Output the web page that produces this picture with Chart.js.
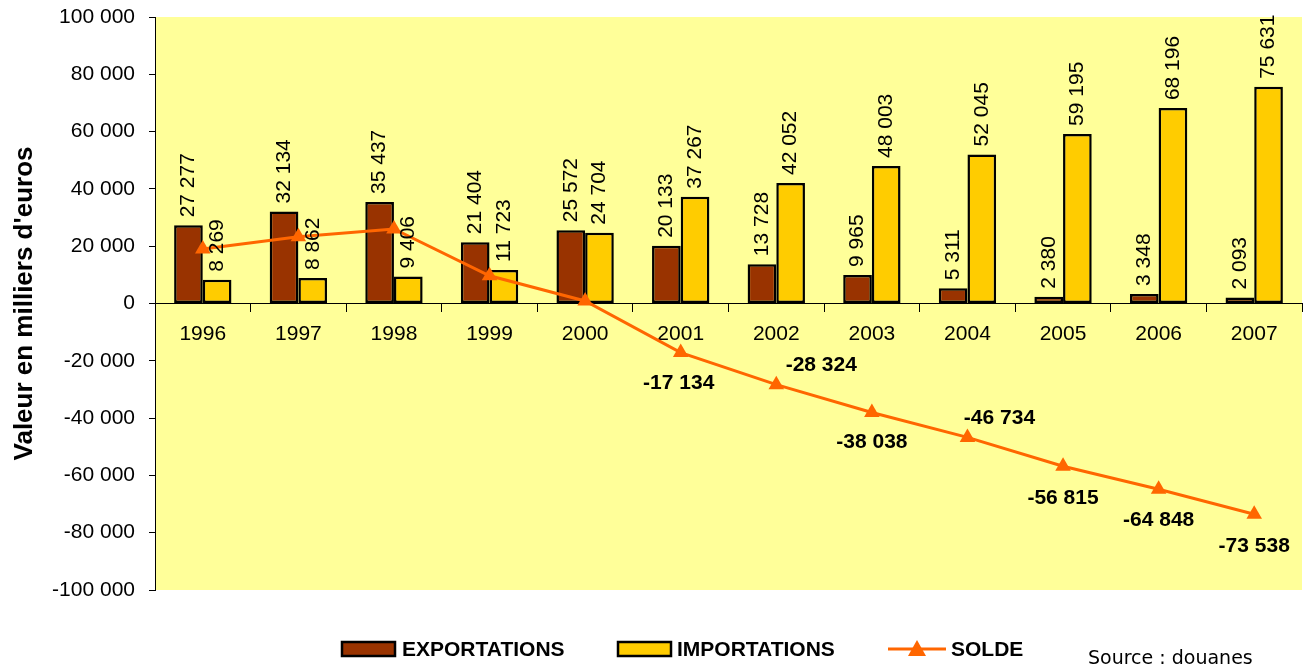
<!DOCTYPE html>
<html>
<head>
<meta charset="utf-8">
<script src="https://cdn.jsdelivr.net/npm/chart.js@4.4.1/dist/chart.umd.min.js"></script>
<style>
  html, body { margin: 0; padding: 0; background: #fff; }
  #wrap { position: relative; width: 1311px; height: 667px; }
</style>
</head>
<body>
<div id="wrap"><canvas id="c" width="1311" height="667"></canvas></div>
<script>
const years = ['1996', '1997', '1998', '1999', '2000', '2001', '2002', '2003', '2004', '2005', '2006', '2007'];
const exportations = [27277, 32134, 35437, 21404, 25572, 20133, 13728, 9965, 5311, 2380, 3348, 2093];
const importations = [8269, 8862, 9406, 11723, 24704, 37267, 42052, 48003, 52045, 59195, 68196, 75631];
const solde = [19008, 23272, 26031, 9681, 868, -17134, -28324, -38038, -46734, -56815, -64848, -73538];

// décalage des étiquettes du solde (seules les valeurs négatives sont affichées)
const soldeLabelOffsets = [null, null, null, null, null,
    [-2, 31], [45, -19], [0, 30], [32, -19], [0, 32], [0, 31], [0, 32]];

const FONT = 'Arial, "Liberation Sans", sans-serif';

function fmt(v) {
    const s = String(Math.abs(v)).replace(/\B(?=(\d{3})+(?!\d))/g, ' ');
    return (v < 0 ? '-' : '') + s;
}

// fond jaune de la zone de tracé
const plotBackground = {
    id: 'plotBackground',
    beforeDraw(chart) {
        const { ctx, chartArea: a } = chart;
        ctx.save();
        ctx.fillStyle = '#FFFF99';
        ctx.fillRect(a.left, a.top, a.right - a.left, a.bottom - a.top);
        ctx.restore();
    }
};

// étiquettes de valeurs
const valueLabels = {
    id: 'valueLabels',
    afterDatasetsDraw(chart) {
        const ctx = chart.ctx;
        ctx.save();
        ctx.fillStyle = '#000';
        [0, 1].forEach(di => {
            const meta = chart.getDatasetMeta(di);
            const data = chart.data.datasets[di].data;
            meta.data.forEach((bar, i) => {
                ctx.save();
                ctx.translate(bar.x, bar.y - 8);
                ctx.rotate(-Math.PI / 2);
                ctx.font = '21px ' + FONT;
                ctx.textAlign = 'left';
                ctx.textBaseline = 'middle';
                ctx.fillText(fmt(data[i]), 0, 0);
                ctx.restore();
            });
        });
        const lm = chart.getDatasetMeta(2);
        ctx.font = 'bold 21px ' + FONT;
        ctx.textAlign = 'center';
        ctx.textBaseline = 'middle';
        lm.data.forEach((pt, i) => {
            const off = soldeLabelOffsets[i];
            if (!off) return;
            ctx.fillText(fmt(solde[i]), pt.x + off[0], pt.y + off[1]);
        });
        ctx.restore();
    }
};

// légende dessinée à la main + source
const customLegend = {
    id: 'customLegend',
    afterDraw(chart) {
        const ctx = chart.ctx;
        ctx.save();
        ctx.lineWidth = 2.5;
        ctx.strokeStyle = '#000';
        ctx.fillStyle = '#993300';
        ctx.fillRect(342, 642, 53, 14);
        ctx.strokeRect(342, 642, 53, 14);
        ctx.fillStyle = '#FFCC00';
        ctx.fillRect(618, 642, 53, 14);
        ctx.strokeRect(618, 642, 53, 14);
        ctx.strokeStyle = '#FF6600';
        ctx.lineWidth = 3;
        ctx.beginPath();
        ctx.moveTo(888, 649);
        ctx.lineTo(946, 649);
        ctx.stroke();
        ctx.fillStyle = '#FF6600';
        ctx.beginPath();
        ctx.moveTo(917, 640);
        ctx.lineTo(926, 656);
        ctx.lineTo(908, 656);
        ctx.closePath();
        ctx.fill();
        ctx.fillStyle = '#000';
        ctx.font = 'bold 21px ' + FONT;
        ctx.textBaseline = 'middle';
        ctx.textAlign = 'left';
        ctx.fillText('EXPORTATIONS', 402, 650);
        ctx.fillText('IMPORTATIONS', 677, 650);
        ctx.fillText('SOLDE', 951, 650);
        ctx.font = '19px "DejaVu Sans", Verdana, sans-serif';
        ctx.textBaseline = 'alphabetic';
        ctx.fillText('Source : douanes', 1088, 664);
        ctx.restore();
    }
};

new Chart(document.getElementById('c'), {
    data: {
        labels: years,
        datasets: [
            {
                type: 'bar',
                label: 'EXPORTATIONS',
                data: exportations,
                backgroundColor: '#993300',
                borderColor: '#000',
                borderWidth: 2.5,
                borderSkipped: false,
                categoryPercentage: 0.6,
                barPercentage: 1.0,
                order: 1
            },
            {
                type: 'bar',
                label: 'IMPORTATIONS',
                data: importations,
                backgroundColor: '#FFCC00',
                borderColor: '#000',
                borderWidth: 2.5,
                borderSkipped: false,
                categoryPercentage: 0.6,
                barPercentage: 1.0,
                order: 1
            },
            {
                type: 'line',
                label: 'SOLDE',
                data: solde,
                borderColor: '#FF6600',
                backgroundColor: '#FF6600',
                borderWidth: 3,
                pointStyle: 'triangle',
                pointRadius: 9,
                pointBorderWidth: 0,
                pointBackgroundColor: '#FF6600',
                tension: 0,
                order: 0
            }
        ]
    },
    options: {
        responsive: false,
        animation: false,
        devicePixelRatio: 1,
        layout: { padding: { left: 0, top: 17, right: 6, bottom: 77 } },
        plugins: {
            legend: { display: false },
            tooltip: { enabled: false }
        },
        scales: {
            x: {
                position: { y: 0 },
                offset: true,
                afterFit(scale) {
                    scale.height = 0;
                    scale.paddingTop = 0;
                    scale.paddingBottom = 0;
                },
                grid: {
                    offset: true,
                    drawOnChartArea: false,
                    drawTicks: true,
                    tickLength: 8,
                    color: '#000',
                    lineWidth: 1
                },
                border: { display: true, color: '#000', width: 1 },
                ticks: {
                    padding: 10,
                    color: '#000',
                    font: { family: FONT, size: 21 },
                    maxRotation: 0
                }
            },
            y: {
                min: -100000,
                max: 100000,
                afterFit(scale) {
                    scale.width = 155;
                    scale.paddingTop = 0;
                    scale.paddingBottom = 0;
                },
                grid: {
                    drawOnChartArea: false,
                    drawTicks: true,
                    tickLength: 6,
                    color: '#000'
                },
                border: { display: true, color: '#000', width: 1 },
                ticks: {
                    stepSize: 20000,
                    padding: 14,
                    color: '#000',
                    font: { family: FONT, size: 21 },
                    callback: v => fmt(v)
                },
                title: {
                    display: true,
                    text: "Valeur en milliers d'euros",
                    color: '#000',
                    font: { family: FONT, size: 26, weight: 'bold' },
                    padding: { top: 9, bottom: 0 }
                }
            }
        }
    },
    plugins: [plotBackground, valueLabels, customLegend]
});
</script>
</body>
</html>
